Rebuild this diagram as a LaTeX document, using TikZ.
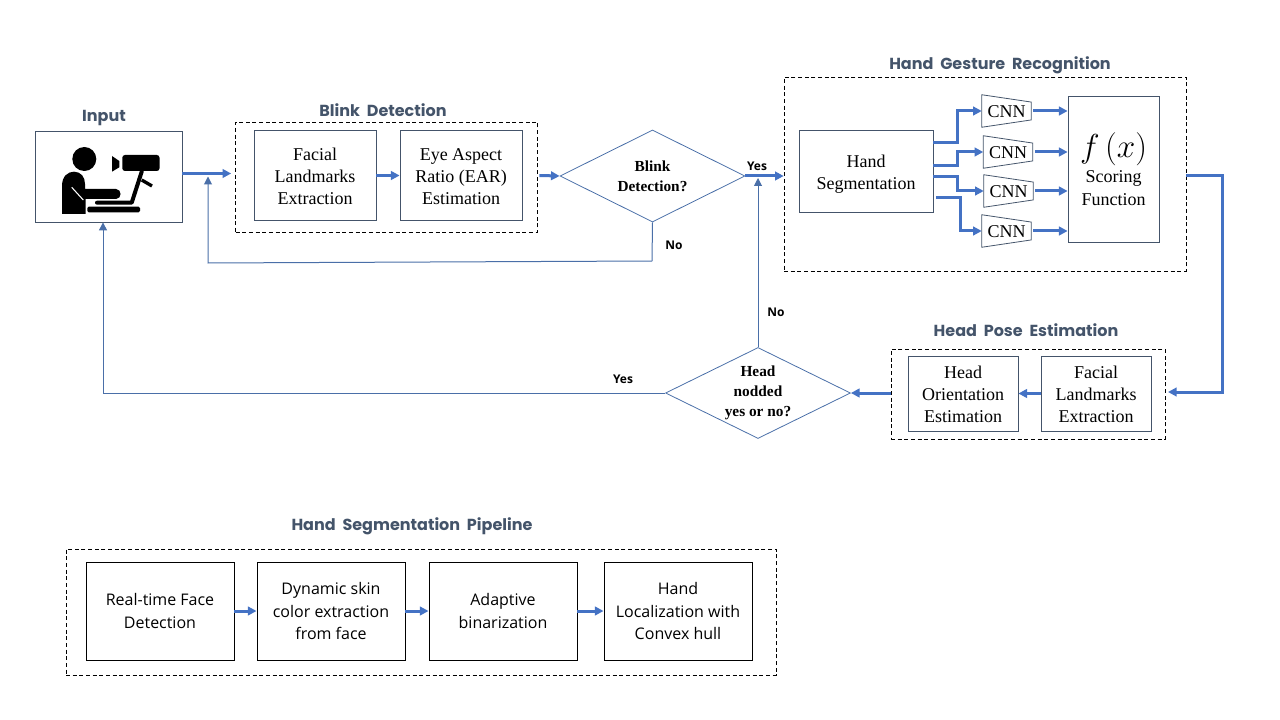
\documentclass[tikz,border=0pt]{standalone}
\usepackage{fontspec}
\setmainfont{Liberation Serif}
\newfontfamily\headfont[WordSpace=2]{Poppins}
\newfontfamily\plainfont{Open Sans}
\usetikzlibrary{arrows.meta,shapes.geometric}
\definecolor{headblue}{HTML}{44546A}
\definecolor{flowblue}{HTML}{4472C4}
\definecolor{linkblue}{HTML}{4A6FA8}
\newcommand{\lift}[1][11pt]{\rule{0pt}{#1}}
\tikzset{
  box/.style={draw=headblue,line width=.6pt,align=center,inner sep=0pt,font=\fontsize{13.5}{16.5}\selectfont},
  blackbox/.style={draw=black,line width=.7pt,align=center,inner sep=0pt,font=\plainfont\fontsize{12}{17}\selectfont},
  dashbox/.style={draw=black,line width=.5pt,densely dashed,inner sep=0pt},
  cnnbox/.style={inner sep=0pt,minimum width=36.75pt,minimum height=24pt,font=\fontsize{13.5}{16}\selectfont,execute at begin node=\rule{0pt}{10.5pt}},
  decision/.style={diamond,draw=linkblue,line width=.6pt,aspect=2,inner sep=0pt,align=center,font=\bfseries\fontsize{11.5}{15}\selectfont},
  title/.style={text=headblue,font=\headfont\bfseries\fontsize{12}{15}\selectfont},
  tag/.style={font=\plainfont\bfseries\fontsize{9}{11}\selectfont},
  flow/.style={flowblue,line width=2.25pt,-{Triangle[length=6.5pt,width=6.5pt]}},
  link/.style={linkblue,line width=.75pt,-{Triangle[length=6pt,width=6pt]}}
}
\begin{document}
\begin{tikzpicture}[x=.75pt,y=-.75pt]
\useasboundingbox (0,0) rectangle (1280,720);

% dashed groups
\node[dashbox,minimum width=226.5pt,minimum height=82.5pt] (blinkgroup) at(386.5,177){};
\node[dashbox,minimum width=301.5pt,minimum height=145.5pt] (gesturegroup) at(985,174){};
\node[dashbox,minimum width=205.5pt,minimum height=67.5pt] (posegroup) at(1028,394){};
\node[dashbox,minimum width=532.5pt,minimum height=94.5pt] (pipegroup) at(421,612){};

% titles
\node[title] (inputtitle) at(104,118){Input};
\node[title] (blinktitle) at(383,110){Blink Detection};
\node[title] (gesturetitle) at(1000,65){Hand Gesture Recognition};
\node[title] (posetitle) at(1026,330){Head Pose Estimation};
\node[title] (pipetitle) at(412,526){Hand Segmentation Pipeline};

% input
\node[box,minimum width=110.25pt,minimum height=68.25pt] (input) at(108.5,176.5){};
\fill (84.3,159) circle (12);
\fill (62,214) -- (62,186) .. controls (62,176) and (68,171.7) .. (74,171.7) .. controls (81,171.7) and (85,177) .. (85,184) -- (85,189) -- (116,189) .. controls (122,189) and (122,199) .. (116,199) -- (85.7,199) -- (85.7,214) -- cycle;
\draw[white,line width=.8pt] (71.7,187.3) -- (83.3,200);
\fill[rounded corners=1pt] (87.3,206.7) rectangle (140,212.3);
\draw[line width=3pt,line cap=round,line join=round] (97,202.7) -- (131.7,202.7) -- (141.7,171.7);
\draw[line width=2.5pt] (141.7,180) -- (152,186);
\fill[rounded corners=2pt] (122.3,155) rectangle (159.5,171);
\fill (112,156) -- (119.3,161) -- (119.3,167.3) -- (112,171.7) -- cycle;

% blink detection
\node[box,minimum width=91.5pt,minimum height=67.5pt] (landmarks) at(315,175.5){\lift Facial\\Landmarks\\Extraction};
\node[box,minimum width=91.5pt,minimum height=67.5pt] (ear) at(461,175.5){\lift Eye Aspect\\Ratio (EAR)\\Estimation};
\node[decision,minimum width=138.75pt,minimum height=69pt] (blink) at(652.5,176){Blink\\Detection?};

% hand gesture recognition
\node[box,minimum width=100.5pt,minimum height=61.5pt] (seg) at(866,171){\lift[14.5pt]Hand\\Segmentation};
\node[box,minimum width=68.25pt,minimum height=109.5pt,font=\fontsize{13.5}{17}\selectfont] (score) at(1113.5,169){{\fontsize{25}{27}\selectfont$f\,(x)$}\\[2pt]Scoring\\Function};
\foreach \name/\x/\y in {cnna/1006.5/111,cnnb/1008/152,cnnc/1008.5/191,cnnd/1006.5/231}{
  \node[cnnbox] (\name) at(\x,\y){CNN};
  \draw[headblue,line width=.6pt] (\name.north west) -- ([yshift=-5.5pt]\name.north east) -- ([yshift=5.5pt]\name.south east) -- (\name.south west) -- cycle;
}

% head pose estimation
\node[box,minimum width=82.5pt,minimum height=56.25pt] (orient) at(963,393.5){\lift Head\\Orientation\\Estimation};
\node[box,minimum width=82.5pt,minimum height=56.25pt] (poselandmarks) at(1096,393.5){\lift Facial\\Landmarks\\Extraction};
\node[decision,minimum width=138.75pt,minimum height=68.25pt] (nod) at(758,393){Head\\nodded\\yes or no?};

% pipeline
\node[blackbox,minimum width=111pt,minimum height=73.5pt] (face) at(160,611){Real-time Face\\Detection};
\node[blackbox,minimum width=111pt,minimum height=73.5pt] (skin) at(331,611){Dynamic skin\\color extraction\\from face};
\node[blackbox,minimum width=111pt,minimum height=73.5pt] (binar) at(503,611){Adaptive\\binarization};
\node[blackbox,minimum width=111pt,minimum height=73.5pt] (hull) at(678,611){Hand\\Localization with\\Convex hull};

% corners of the thin links
\coordinate (blinkcorner) at(652,261);
\coordinate (backcorner) at(208,263);
\coordinate (nodcorner) at(103,393);
\coordinate (yesjoin) at(758,178);

% connectors
\draw[flow,shorten >=3pt] ([yshift=2.25pt]input.east) -- ([yshift=2.25pt]input.east -| blinkgroup.west);
\draw[flow] (landmarks.east) -- (ear.west);
\draw[flow] (ear.east) ++(17,0) -- (blink.west);
\draw[flow] (blink.east) -- (blink.east -| gesturegroup.west);
\draw[flow] ([yshift=21pt]seg.east) -- ++(24,0) |- (cnna.west);
\draw[flow] ([yshift=4pt]seg.east) -- ++(24,0) |- (cnnb.west);
\draw[flow] ([yshift=-4pt]seg.east) -- ++(24,0) |- (cnnc.west);
\draw[flow] ([xshift=2pt,yshift=-20pt]seg.east) -- ++(24,0) |- (cnnd.west);
\foreach \name in {cnna,cnnb,cnnc,cnnd}{
  \draw[flow] (\name.east) ++(2,0) -- (\name.east -| score.west);
}
\draw[flow] ([yshift=-1.5pt]gesturegroup.east) -- ++(36,0) |- ([yshift=1.5pt,xshift=2pt]posegroup.east);
\draw[flow] (poselandmarks.west) -- (orient.east);
\draw[flow] (posegroup.west |- nod.east) -- (nod.east);
\draw[flow] (face.east) -- (skin.west);
\draw[flow] (skin.east) -- (binar.west);
\draw[flow] (binar.east) -- (hull.west);
\draw[link,-] (blink.south) -- (blinkcorner);
\draw[link] (blinkcorner) -- (backcorner) -- (backcorner |- input.east);
\draw[link] (nod.north) -- (yesjoin);
\draw[link] (nod.west) -- (nodcorner) -- (input.south -| nodcorner);

% labels
\node[tag] (yesa) at(757,166){Yes};
\node[tag] (noa) at(674,245){No};
\node[tag] (nob) at(776,312){No};
\node[tag] (yesb) at(623,379){Yes};
\end{tikzpicture}
\end{document}
